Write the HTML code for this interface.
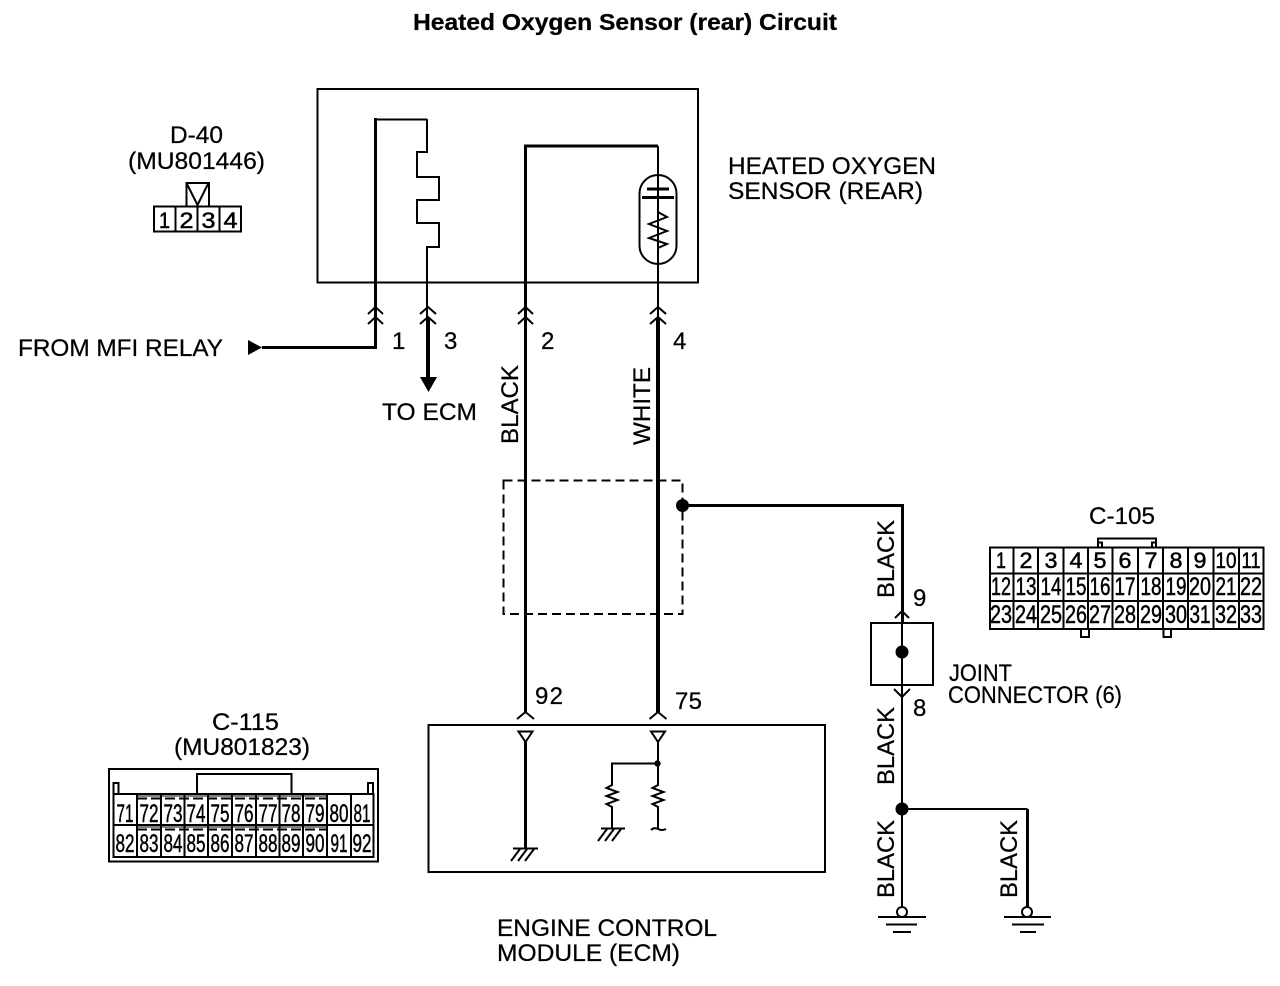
<!DOCTYPE html>
<html><head><meta charset="utf-8"><title>Heated Oxygen Sensor (rear) Circuit</title>
<style>
html,body{margin:0;padding:0;background:#fff}
svg{display:block}
text{font-family:"Liberation Sans",sans-serif;font-size:24px;fill:#000;stroke:#000;stroke-width:.25px}
.c{text-anchor:middle}
.r{font-size:25px;stroke-width:.5px}
.s{font-size:22px;stroke-width:.5px}
.ln{fill:none;stroke:#000;stroke-width:2}
.t{fill:none;stroke:#000;stroke-width:3}
.k{fill:none;stroke:#000;stroke-width:4}
</style></head><body>
<svg width="1280" height="986" viewBox="0 0 1280 986" xmlns="http://www.w3.org/2000/svg">
<rect width="1280" height="986" fill="#fff"/>
<text x="413" y="30" style="font-size:23px;font-weight:bold" textLength="424" lengthAdjust="spacingAndGlyphs">Heated Oxygen Sensor (rear) Circuit</text>

<!-- sensor box -->
<rect class="ln" x="317.500" y="89" width="380.500" height="193.500"/>
<path class="t" d="M375.500 335V118"/>
<path class="ln" d="M374 119.500H427"/>
<path class="ln" d="M427 119V152H417V177H439V200H417V223H439V247H427V320"/>
<path class="t" d="M525.500 320V146H658"/>
<path class="ln" d="M658 146V320"/>
<rect class="ln" x="639.500" y="175" width="37" height="89" rx="18.500"/>
<path class="t" d="M647 189H669M642 197.500H674"/>
<path class="ln" d="M658 197V212L667 217L649 224L667 231L649 238L667 244L658 248V265"/>

<!-- connector chevrons -->
<path class="ln" d="M368 314L375.500 307L383 314M368 324L375.500 317L383 324"/>
<path class="ln" d="M420 314L428 307L436 314M420 324L428 317L436 324"/>
<path class="ln" d="M518 314L525.500 307L533 314M518 324L525.500 317L533 324"/>
<path class="ln" d="M650 314L658 307L666 314M650 324L658 317L666 324"/>

<!-- lower wires -->
<path class="t" d="M375.500 335V347.500H262"/>
<polygon points="248,340 262,347.500 248,355"/>
<path class="k" d="M428 318V380"/>
<polygon points="420,377 437,377 428.500,392"/>
<path class="t" d="M525.500 318V712"/>
<path class="k" d="M658 318V712"/>
<rect x="503.500" y="480.500" width="179" height="133.500" fill="none" stroke="#000" stroke-width="2" stroke-dasharray="9 5"/>
<circle cx="682.500" cy="505.500" r="6.500"/>
<path class="t" d="M682 505.500H902.500V623"/>

<text x="392" y="349" textLength="11">1</text>
<text x="444" y="349" textLength="13">3</text>
<text x="541" y="349" textLength="15">2</text>
<text x="673" y="349" textLength="14">4</text>
<text x="18" y="356" textLength="205" lengthAdjust="spacingAndGlyphs">FROM MFI RELAY</text>
<text x="382" y="420" textLength="95" lengthAdjust="spacingAndGlyphs">TO ECM</text>
<text x="728" y="174" textLength="208" lengthAdjust="spacingAndGlyphs">HEATED OXYGEN</text>
<text x="728" y="199" textLength="195" lengthAdjust="spacingAndGlyphs">SENSOR (REAR)</text>
<text transform="translate(518 444) rotate(-90)" textLength="79" lengthAdjust="spacingAndGlyphs">BLACK</text>
<text transform="translate(650 445) rotate(-90)" textLength="78" lengthAdjust="spacingAndGlyphs">WHITE</text>
<text transform="translate(894 598) rotate(-90)" textLength="78" lengthAdjust="spacingAndGlyphs">BLACK</text>
<text transform="translate(894 785) rotate(-90)" textLength="78" lengthAdjust="spacingAndGlyphs">BLACK</text>
<text transform="translate(894 898) rotate(-90)" textLength="78" lengthAdjust="spacingAndGlyphs">BLACK</text>
<text transform="translate(1017 898) rotate(-90)" textLength="78" lengthAdjust="spacingAndGlyphs">BLACK</text>

<!-- joint connector -->
<path class="ln" d="M895 618L902 611L909 618"/>
<rect class="ln" x="871" y="623" width="62" height="62"/>
<path class="ln" d="M902 623V907M902 809H1027.500"/>
<path class="t" d="M1027.500 809V907"/>
<circle cx="902" cy="652" r="6.500"/>
<circle cx="902" cy="809" r="6.500"/>
<path class="ln" d="M894 689L902 697L910 689"/>
<circle class="ln" cx="902" cy="912" r="5"/>
<circle class="ln" cx="1027" cy="912" r="5"/>
<path class="ln" d="M878 917H926M886 924.500H917M893 932H911M1004 917H1051M1012 924.500H1044M1020 932H1036"/>
<text x="913" y="606" textLength="14">9</text>
<text x="913" y="716" textLength="14">8</text>
<text x="949" y="681" textLength="63" lengthAdjust="spacingAndGlyphs">JOINT</text>
<text x="948" y="703" textLength="174" lengthAdjust="spacingAndGlyphs">CONNECTOR (6)</text>

<!-- ECM -->
<rect class="ln" x="428.500" y="725" width="396.500" height="147"/>
<path class="ln" d="M517 719L525.500 712L534 719M649.500 719L658 712L666.500 719"/>
<polygon class="ln" points="518.500,731.500 532.500,731.500 525.500,742"/>
<polygon class="ln" points="651,731.500 665,731.500 658,742"/>
<path class="t" d="M525.500 742V848"/>
<path class="ln" d="M658 742V785L652.500 788L663.500 792L652.500 796L663.500 800L652.500 804L658 807V829"/>
<path class="ln" d="M651 830Q654 827 658 829T666 829"/>
<path class="ln" d="M658 763.500H612V785L606.500 788L617.500 792L606.500 796L617.500 800L606.500 804L612 807V828"/>
<circle cx="657.500" cy="763.500" r="3.200"/>
<path class="ln" d="M513 848.500H538M520 849L511 861M527 849L518 861M534 849L525 861"/>
<path class="ln" d="M601 828.500H625M607 829L598 841M614 829L605 841M621 829L612 841"/>
<text x="535" y="704" textLength="28">92</text>
<text x="675" y="709" textLength="27">75</text>
<text x="497" y="936" textLength="220" lengthAdjust="spacingAndGlyphs">ENGINE CONTROL</text>
<text x="497" y="961" textLength="183" lengthAdjust="spacingAndGlyphs">MODULE (ECM)</text>

<!-- D-40 -->
<text x="170" y="143" textLength="53" lengthAdjust="spacingAndGlyphs">D-40</text>
<text x="128" y="169" textLength="137" lengthAdjust="spacingAndGlyphs">(MU801446)</text>
<path class="ln" d="M186.500 206V183H209V206M187 184L197.500 205L208 184"/>
<rect class="ln" x="154" y="206.500" width="87" height="25"/>
<path class="ln" d="M175.500 206V232M197.500 206V232M219.500 206V232"/>
<text class="c s" x="164.500" y="228" textLength="11" lengthAdjust="spacingAndGlyphs">1</text>
<text class="c s" x="186.500" y="228" textLength="14" lengthAdjust="spacingAndGlyphs">2</text>
<text class="c s" x="208.500" y="228" textLength="14" lengthAdjust="spacingAndGlyphs">3</text>
<text class="c s" x="230.500" y="228" textLength="14" lengthAdjust="spacingAndGlyphs">4</text>

<!-- C-115 -->
<text x="212" y="730" textLength="67" lengthAdjust="spacingAndGlyphs">C-115</text>
<text x="174" y="755" textLength="136" lengthAdjust="spacingAndGlyphs">(MU801823)</text>
<rect class="ln" x="109" y="769" width="269" height="92.500"/>
<path class="ln" d="M113.500 794V783H118.500V794M373 794V783H368V794M197 794V774H291.500V794"/>
<rect class="ln" x="113.500" y="794" width="260" height="63"/>
<path class="ln" d="M113.500 825H373.500M137 794V857M161 794V857M184.500 794V857M208 794V857M232 794V857M256 794V857M279.500 794V857M303 794V857M327 794V857M351 794V857"/>
<path d="M137 796H327M137 827H327" stroke="#000" stroke-width="1" fill="none"/>
<path d="M137 798.500H327M137 829.500H327" stroke="#000" stroke-width="2" stroke-dasharray="10 4" fill="none"/>
<text class="c r" x="125" y="822" textLength="17" lengthAdjust="spacingAndGlyphs">71</text>
<text class="c r" x="149" y="822" textLength="19" lengthAdjust="spacingAndGlyphs">72</text>
<text class="c r" x="173" y="822" textLength="19" lengthAdjust="spacingAndGlyphs">73</text>
<text class="c r" x="196" y="822" textLength="19" lengthAdjust="spacingAndGlyphs">74</text>
<text class="c r" x="220" y="822" textLength="19" lengthAdjust="spacingAndGlyphs">75</text>
<text class="c r" x="244" y="822" textLength="19" lengthAdjust="spacingAndGlyphs">76</text>
<text class="c r" x="268" y="822" textLength="19" lengthAdjust="spacingAndGlyphs">77</text>
<text class="c r" x="291" y="822" textLength="19" lengthAdjust="spacingAndGlyphs">78</text>
<text class="c r" x="315" y="822" textLength="19" lengthAdjust="spacingAndGlyphs">79</text>
<text class="c r" x="339" y="822" textLength="19" lengthAdjust="spacingAndGlyphs">80</text>
<text class="c r" x="362" y="822" textLength="17" lengthAdjust="spacingAndGlyphs">81</text>
<text class="c r" x="125" y="852" textLength="19" lengthAdjust="spacingAndGlyphs">82</text>
<text class="c r" x="149" y="852" textLength="19" lengthAdjust="spacingAndGlyphs">83</text>
<text class="c r" x="173" y="852" textLength="19" lengthAdjust="spacingAndGlyphs">84</text>
<text class="c r" x="196" y="852" textLength="19" lengthAdjust="spacingAndGlyphs">85</text>
<text class="c r" x="220" y="852" textLength="19" lengthAdjust="spacingAndGlyphs">86</text>
<text class="c r" x="244" y="852" textLength="19" lengthAdjust="spacingAndGlyphs">87</text>
<text class="c r" x="268" y="852" textLength="19" lengthAdjust="spacingAndGlyphs">88</text>
<text class="c r" x="291" y="852" textLength="19" lengthAdjust="spacingAndGlyphs">89</text>
<text class="c r" x="315" y="852" textLength="19" lengthAdjust="spacingAndGlyphs">90</text>
<text class="c r" x="339" y="852" textLength="17" lengthAdjust="spacingAndGlyphs">91</text>
<text class="c r" x="362" y="852" textLength="19" lengthAdjust="spacingAndGlyphs">92</text>

<!-- C-105 -->
<text x="1089" y="524" textLength="66" lengthAdjust="spacingAndGlyphs">C-105</text>
<path class="ln" d="M1098 547V538.500H1156V547M1098 542.500H1102V547M1156 542.500H1152V547"/>
<rect class="ln" x="990" y="547.500" width="273.500" height="81.500"/>
<path class="ln" d="M990 573.500H1263M990 601H1263M1013.500 547V629M1038 547V629M1063.500 547V629M1088 547V629M1112.500 547V629M1138 547V629M1163 547V629M1188 547V629M1213.500 547V629M1239 547V629"/>
<path class="ln" d="M1081 629V637H1089V629M1163.500 629V637H1171V629"/>
<text class="c s" x="1001" y="568" textLength="10" lengthAdjust="spacingAndGlyphs">1</text>
<text class="c s" x="1026" y="568" textLength="13" lengthAdjust="spacingAndGlyphs">2</text>
<text class="c s" x="1051" y="568" textLength="13" lengthAdjust="spacingAndGlyphs">3</text>
<text class="c s" x="1076" y="568" textLength="13" lengthAdjust="spacingAndGlyphs">4</text>
<text class="c s" x="1100" y="568" textLength="13" lengthAdjust="spacingAndGlyphs">5</text>
<text class="c s" x="1125" y="568" textLength="13" lengthAdjust="spacingAndGlyphs">6</text>
<text class="c s" x="1151" y="568" textLength="13" lengthAdjust="spacingAndGlyphs">7</text>
<text class="c s" x="1176" y="568" textLength="13" lengthAdjust="spacingAndGlyphs">8</text>
<text class="c s" x="1200" y="568" textLength="13" lengthAdjust="spacingAndGlyphs">9</text>
<text class="c s" x="1226" y="568" textLength="21" lengthAdjust="spacingAndGlyphs">10</text>
<text class="c s" x="1251" y="568" textLength="19" lengthAdjust="spacingAndGlyphs">11</text>
<text class="c r" x="1001" y="595" textLength="20" lengthAdjust="spacingAndGlyphs">12</text>
<text class="c r" x="1026" y="595" textLength="21" lengthAdjust="spacingAndGlyphs">13</text>
<text class="c r" x="1051" y="595" textLength="21" lengthAdjust="spacingAndGlyphs">14</text>
<text class="c r" x="1076" y="595" textLength="21" lengthAdjust="spacingAndGlyphs">15</text>
<text class="c r" x="1100" y="595" textLength="21" lengthAdjust="spacingAndGlyphs">16</text>
<text class="c r" x="1125" y="595" textLength="21" lengthAdjust="spacingAndGlyphs">17</text>
<text class="c r" x="1151" y="595" textLength="21" lengthAdjust="spacingAndGlyphs">18</text>
<text class="c r" x="1176" y="595" textLength="21" lengthAdjust="spacingAndGlyphs">19</text>
<text class="c r" x="1200" y="595" textLength="22" lengthAdjust="spacingAndGlyphs">20</text>
<text class="c r" x="1226" y="595" textLength="21" lengthAdjust="spacingAndGlyphs">21</text>
<text class="c r" x="1251" y="595" textLength="22" lengthAdjust="spacingAndGlyphs">22</text>
<text class="c r" x="1001" y="623" textLength="22" lengthAdjust="spacingAndGlyphs">23</text>
<text class="c r" x="1026" y="623" textLength="22" lengthAdjust="spacingAndGlyphs">24</text>
<text class="c r" x="1051" y="623" textLength="22" lengthAdjust="spacingAndGlyphs">25</text>
<text class="c r" x="1076" y="623" textLength="22" lengthAdjust="spacingAndGlyphs">26</text>
<text class="c r" x="1100" y="623" textLength="22" lengthAdjust="spacingAndGlyphs">27</text>
<text class="c r" x="1125" y="623" textLength="22" lengthAdjust="spacingAndGlyphs">28</text>
<text class="c r" x="1151" y="623" textLength="22" lengthAdjust="spacingAndGlyphs">29</text>
<text class="c r" x="1176" y="623" textLength="22" lengthAdjust="spacingAndGlyphs">30</text>
<text class="c r" x="1200" y="623" textLength="21" lengthAdjust="spacingAndGlyphs">31</text>
<text class="c r" x="1226" y="623" textLength="22" lengthAdjust="spacingAndGlyphs">32</text>
<text class="c r" x="1251" y="623" textLength="22" lengthAdjust="spacingAndGlyphs">33</text>
</svg>
</body></html>
